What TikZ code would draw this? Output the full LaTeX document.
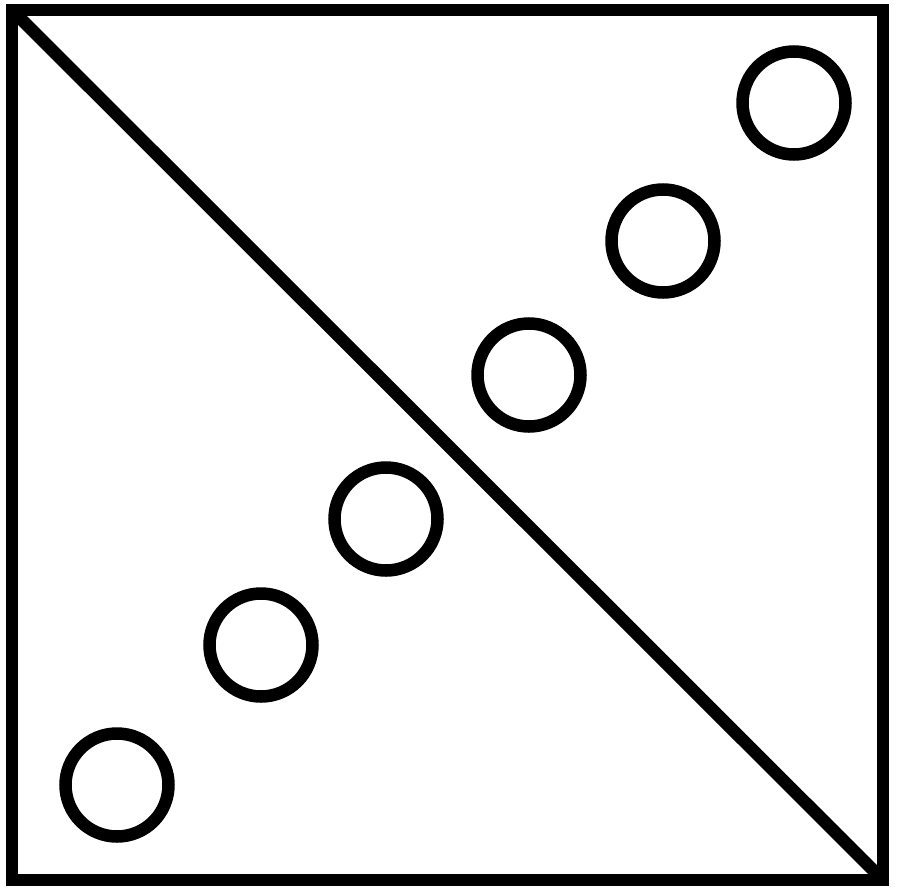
\documentclass[tikz,border=0pt]{standalone}
\usepackage{amsmath, amssymb}
\usepackage{tikz}

\begin{document}
\begin{tikzpicture}[x=0.1mm, y=-0.1mm, line width=1.25mm,
    ring/.style={draw, circle, inner sep=0pt, minimum size=10.3mm}]
        \useasboundingbox (0,0) rectangle (900,894);
        \coordinate (tl) at (12,10);
        \coordinate (br) at (883,880);
        \draw (tl) rectangle (br);
        \draw (tl) -- (br);
        \foreach \x/\y [count=\i] in {117/785, 261/645, 386/519, 529/375, 663/241, 794/103} {
          \node[ring] (c\i) at (\x, \y) {};
          }
      \end{tikzpicture}
\end{document}
